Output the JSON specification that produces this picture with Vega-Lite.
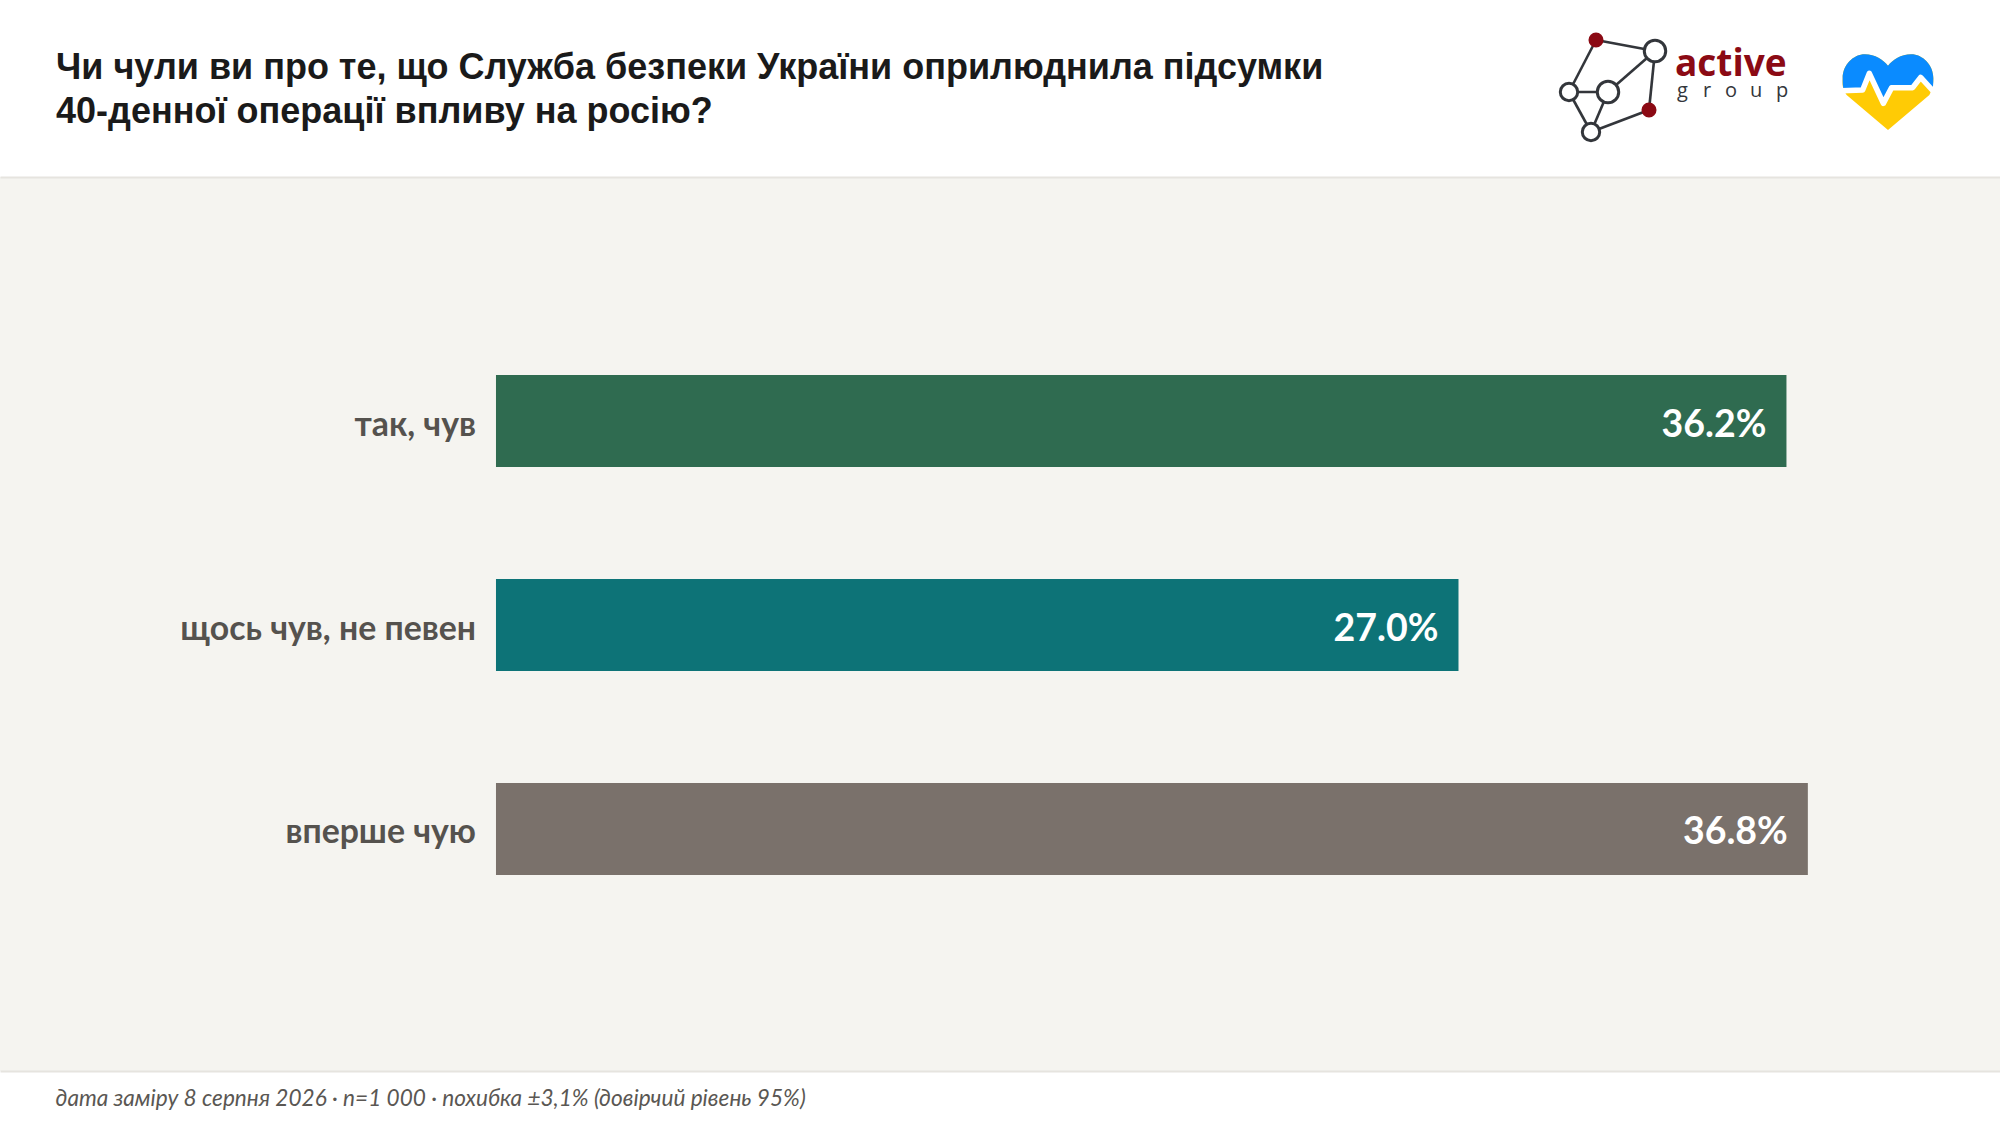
{
  "$schema": "https://vega.github.io/schema/vega-lite/v6.json",
  "autosize": "none",
  "width": 2000,
  "height": 894,
  "padding": {"left": 0, "top": 177, "right": 0, "bottom": 55},
  "background": "#ffffff",
  "view": {"fill": "#f5f4f0", "stroke": null},
  "title": {
    "text": ["Чи чули ви про те, що Служба безпеки України оприлюднила підсумки", "40-денної операції впливу на росію?"],
    "anchor": "start",
    "frame": "group",
    "dx": 56,
    "offset": -131,
    "baseline": "alphabetic",
    "font": "Liberation Sans",
    "fontSize": 36,
    "fontWeight": "bold",
    "lineHeight": 44,
    "color": "#1a1a1a"
  },
  "datasets": {
    "answers": [
      {"answer": "так, чув", "pct": 36.2, "label": "36.2%"},
      {"answer": "щось чув, не певен", "pct": 27.0, "label": "27.0%"},
      {"answer": "вперше чую", "pct": 36.8, "label": "36.8%"}
    ],
    "edges": [
      {"lx": 56, "ly": 30, "lx2": 115, "ly2": 41},
      {"lx": 56, "ly": 30, "lx2": 29, "ly2": 82},
      {"lx": 29, "ly": 82, "lx2": 68, "ly2": 82},
      {"lx": 29, "ly": 82, "lx2": 51, "ly2": 122},
      {"lx": 68, "ly": 82, "lx2": 51, "ly2": 122},
      {"lx": 68, "ly": 82, "lx2": 115, "ly2": 41},
      {"lx": 115, "ly": 41, "lx2": 109, "ly2": 100},
      {"lx": 109, "ly": 100, "lx2": 51, "ly2": 122}
    ],
    "nodes": [
      {"lx": 56, "ly": 30, "kind": "solid"},
      {"lx": 115, "ly": 41, "kind": "big"},
      {"lx": 29, "ly": 82, "kind": "small"},
      {"lx": 68, "ly": 82, "kind": "big"},
      {"lx": 109, "ly": 100, "kind": "solid"},
      {"lx": 51, "ly": 122, "kind": "small"}
    ],
    "brand": [{"lx": 135, "ly": 66, "word": "active"}],
    "brandSub": [
      {"lx": 137, "ly": 87, "word": "g"},
      {"lx": 163, "ly": 87, "word": "r"},
      {"lx": 185, "ly": 87, "word": "o"},
      {"lx": 210, "ly": 87, "word": "u"},
      {"lx": 236, "ly": 87, "word": "p"}
    ],
    "heart": [
      {"lx": 348, "ly": 82, "part": "base"},
      {"lx": 348, "ly": 82, "part": "top"}
    ],
    "heartLine": [{"lx": 348, "ly": 82}]
  },
  "resolve": {"scale": {"x": "independent", "y": "independent", "color": "independent", "size": "independent", "fill": "independent", "stroke": "independent", "shape": "independent"}, "axis": {"x": "independent", "y": "independent"}},
  "layer": [
    {
      "data": {"name": "answers"},
      "mark": {"type": "bar"},
      "encoding": {
        "y": {"field": "answer", "type": "nominal", "sort": null, "axis": null,
          "scale": {"type": "band", "domain": ["так, чув", "щось чув, не певен", "вперше чую"], "range": [1, 895], "paddingInner": 0.549, "paddingOuter": 0.9657}},
        "x": {"field": "pct", "type": "quantitative",
          "scale": {"domain": [-13.913, 42.19], "nice": false, "zero": false},
          "axis": {"orient": "bottom", "domain": true, "domainColor": "#e6e4df", "domainWidth": 2, "ticks": false, "labels": false, "grid": false,
            "title": "дата заміру 8 серпня 2026 · n=1 000 · похибка ±3,1% (довірчий рівень 95%)",
            "titleFont": "Lato", "titleFontStyle": "italic", "titleFontWeight": "normal", "titleFontSize": 22.6, "titleColor": "#5a5753",
            "titleAnchor": "start", "titleAlign": "left", "titleBaseline": "alphabetic", "titleX": 55, "titleY": 34}},
        "color": {"field": "answer", "type": "nominal", "legend": null,
          "scale": {"domain": ["так, чув", "щось чув, не певен", "вперше чую"], "range": ["#2f6b50", "#0d7377", "#7a716b"]}}
      }
    },
    {
      "data": {"name": "answers"},
      "mark": {"type": "text", "align": "right", "baseline": "middle", "dx": -20, "dy": 4.5, "font": "Lato", "fontWeight": "bold", "fontSize": 37.5, "color": "#ffffff"},
      "encoding": {
        "y": {"field": "answer", "type": "nominal", "sort": null, "axis": null, "bandPosition": 0.5,
          "scale": {"type": "band", "domain": ["так, чув", "щось чув, не певен", "вперше чую"], "range": [1, 895], "paddingInner": 0.549, "paddingOuter": 0.9657}},
        "x": {"field": "pct", "type": "quantitative", "axis": null,
          "scale": {"domain": [-13.913, 42.19], "nice": false, "zero": false}},
        "text": {"field": "label"}
      }
    },
    {
      "data": {"name": "answers"},
      "mark": {"type": "text", "align": "right", "baseline": "middle", "dx": -20, "dy": 4.5, "font": "Lato", "fontWeight": "bold", "fontSize": 33.8, "color": "#55524e"},
      "encoding": {
        "y": {"field": "answer", "type": "nominal", "sort": null, "axis": null, "bandPosition": 0.5,
          "scale": {"type": "band", "domain": ["так, чув", "щось чув, не певен", "вперше чую"], "range": [1, 895], "paddingInner": 0.549, "paddingOuter": 0.9657}},
        "x": {"datum": 0, "type": "quantitative",
          "axis": {"orient": "top", "domain": true, "domainColor": "#e6e4df", "domainWidth": 2, "ticks": false, "labels": false, "grid": false, "title": null},
          "scale": {"domain": [-13.913, 42.19], "nice": false, "zero": false}},
        "text": {"field": "answer"}
      }
    },
    {
      "data": {"name": "edges"},
      "mark": {"type": "rule", "color": "#33363b", "strokeWidth": 2.6, "clip": false},
      "encoding": {
        "x": {"field": "lx", "type": "quantitative", "axis": null, "scale": {"domain": [0, 420], "range": [1540, 1960], "nice": false, "zero": false}},
        "x2": {"field": "lx2"},
        "y": {"field": "ly", "type": "quantitative", "axis": null, "scale": {"domain": [0, 150], "range": [-167, -17], "nice": false, "zero": false}},
        "y2": {"field": "ly2"}
      }
    },
    {
      "data": {"name": "nodes"},
      "mark": {"type": "point", "filled": true, "strokeWidth": 3, "opacity": 1, "clip": false},
      "encoding": {
        "x": {"field": "lx", "type": "quantitative", "axis": null, "scale": {"domain": [0, 420], "range": [1540, 1960], "nice": false, "zero": false}},
        "y": {"field": "ly", "type": "quantitative", "axis": null, "scale": {"domain": [0, 150], "range": [-167, -17], "nice": false, "zero": false}},
        "size": {"field": "kind", "type": "ordinal", "legend": null, "scale": {"domain": ["big", "small", "solid"], "range": [460, 145, 280]}},
        "fill": {"field": "kind", "type": "nominal", "legend": null, "scale": {"domain": ["big", "small", "solid"], "range": ["#ffffff", "#ffffff", "#8b0a14"]}},
        "stroke": {"field": "kind", "type": "nominal", "legend": null, "scale": {"domain": ["big", "small", "solid"], "range": ["#33363b", "#33363b", "#8b0a14"]}}
      }
    },
    {
      "data": {"name": "brand"},
      "mark": {"type": "text", "align": "left", "baseline": "alphabetic", "font": "Open Sans", "fontWeight": "bold", "fontSize": 37, "color": "#8b0a14", "clip": false},
      "encoding": {
        "x": {"field": "lx", "type": "quantitative", "axis": null, "scale": {"domain": [0, 420], "range": [1540, 1960], "nice": false, "zero": false}},
        "y": {"field": "ly", "type": "quantitative", "axis": null, "scale": {"domain": [0, 150], "range": [-167, -17], "nice": false, "zero": false}},
        "text": {"field": "word"}
      }
    },
    {
      "data": {"name": "brandSub"},
      "mark": {"type": "text", "align": "left", "baseline": "alphabetic", "font": "Open Sans", "fontSize": 20, "color": "#33363b", "clip": false},
      "encoding": {
        "x": {"field": "lx", "type": "quantitative", "axis": null, "scale": {"domain": [0, 420], "range": [1540, 1960], "nice": false, "zero": false}},
        "y": {"field": "ly", "type": "quantitative", "axis": null, "scale": {"domain": [0, 150], "range": [-167, -17], "nice": false, "zero": false}},
        "text": {"field": "word"}
      }
    },
    {
      "data": {"name": "heart"},
      "mark": {"type": "point", "filled": true, "size": 10000, "opacity": 1, "strokeWidth": 0, "clip": false},
      "encoding": {
        "x": {"field": "lx", "type": "quantitative", "axis": null, "scale": {"domain": [0, 420], "range": [1540, 1960], "nice": false, "zero": false}},
        "y": {"field": "ly", "type": "quantitative", "axis": null, "scale": {"domain": [0, 150], "range": [-167, -17], "nice": false, "zero": false}},
        "shape": {"field": "part", "type": "nominal", "legend": null, "sort": null, "scale": {"domain": ["base", "top"], "range": [
          "M0,.76 L-.827,.06 C-.927,-.073 -.907,-.173 -.907,-.273 C-.907,-.54 -.693,-.753 -.46,-.753 C-.26,-.753 -.093,-.64 0,-.527 C.093,-.64 .26,-.753 .46,-.753 C.693,-.753 .907,-.54 .907,-.273 C.907,-.173 .9,-.073 .827,.06 Z",
          "M-.88,-.027 C-.907,-.1 -.907,-.2 -.907,-.273 C-.907,-.54 -.693,-.753 -.46,-.753 C-.26,-.753 -.093,-.64 0,-.527 C.093,-.64 .26,-.753 .46,-.753 C.693,-.753 .907,-.54 .907,-.273 C.907,-.17 .9,-.07 .88,-.007 L.653,-.293 L.493,-.087 L.073,-.087 L-.093,.227 L-.373,-.373 L-.507,-.04 Z"
        ]}},
        "fill": {"field": "part", "type": "nominal", "legend": null, "scale": {"domain": ["base", "top"], "range": ["#ffcb05", "#0a8bff"]}}
      }
    },
    {
      "data": {"name": "heartLine"},
      "mark": {"type": "point", "filled": false, "size": 10000, "opacity": 1, "stroke": "#ffffff", "strokeWidth": 5.5, "strokeJoin": "round", "clip": false,
        "shape": "M-.93,-.027 L-.507,-.04 L-.373,-.373 L-.093,.227 L.073,-.087 L.493,-.087 L.653,-.293 L.93,.01"},
      "encoding": {
        "x": {"field": "lx", "type": "quantitative", "axis": null, "scale": {"domain": [0, 420], "range": [1540, 1960], "nice": false, "zero": false}},
        "y": {"field": "ly", "type": "quantitative", "axis": null, "scale": {"domain": [0, 150], "range": [-167, -17], "nice": false, "zero": false}}
      }
    }
  ]
}
